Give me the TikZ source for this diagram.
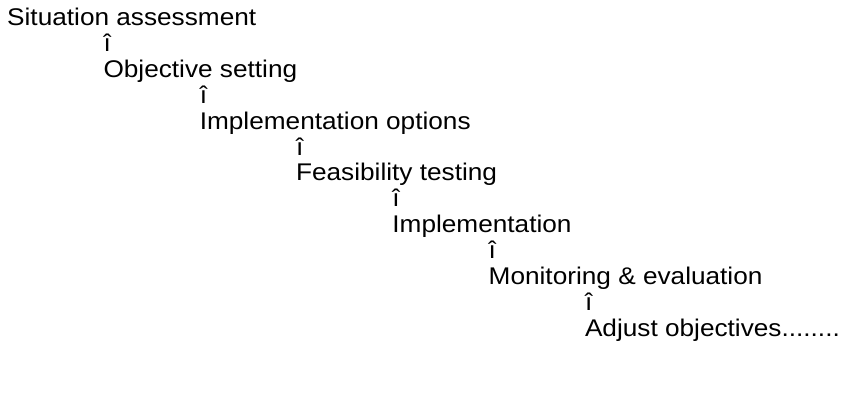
\documentclass[tikz,border=0pt]{standalone}
\usepackage{fontspec}
\setmainfont{Liberation Sans}
\newcommand{\sq}[1]{\scalebox{1}[0.92]{#1}}
\begin{document}
\begin{tikzpicture}[x=1pt,y=-1pt,
  lbl/.style={anchor=base west, inner sep=0pt, font=\fontsize{26.2}{30}\selectfont}]
\useasboundingbox (0,0) rectangle (841,402);
\node[lbl] (s1) at (7,25.5) {\sq{Situation assessment}};
\node[lbl] (a1) at (103.3,51.4) {\sq{î}};
\node[lbl] (s2) at (103.3,77.3) {\sq{Objective setting}};
\node[lbl] (a2) at (199.6,103.2) {\sq{î}};
\node[lbl] (s3) at (199.6,129.1) {\sq{Implementation options}};
\node[lbl] (a3) at (295.9,155) {\sq{î}};
\node[lbl] (s4) at (295.9,180.9) {\sq{Feasibility testing}};
\node[lbl] (a4) at (392.2,206.8) {\sq{î}};
\node[lbl] (s5) at (392.2,232.7) {\sq{Implementation}};
\node[lbl] (a5) at (488.5,258.6) {\sq{î}};
\node[lbl] (s6) at (488.5,284.5) {\sq{Monitoring \& evaluation}};
\node[lbl] (a6) at (584.8,310.4) {\sq{î}};
\node[lbl] (s7) at (584.8,336.3) {\sq{Adjust objectives........}};
\end{tikzpicture}
\end{document}
